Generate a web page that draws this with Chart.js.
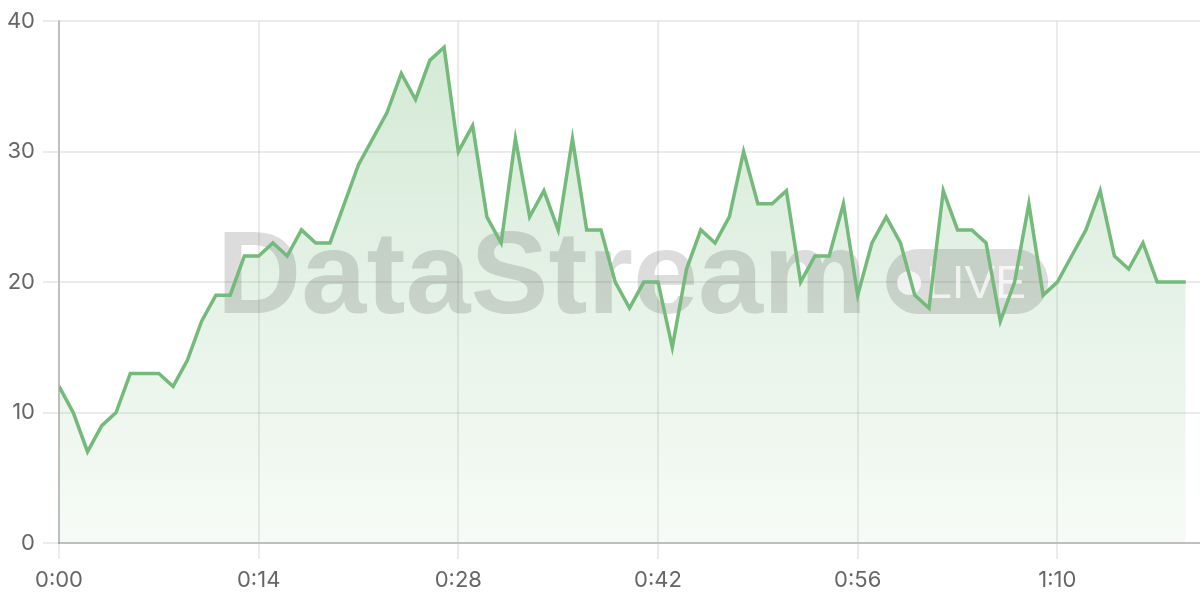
<!DOCTYPE html>
<html>
<head>
<meta charset="utf-8">
<script src="https://cdn.jsdelivr.net/npm/chart.js@4.4.1/dist/chart.umd.min.js"></script>
<style>
html,body{margin:0;padding:0;background:#fff;}
#wrap{width:1200px;height:600px;}
</style>
</head>
<body>
<div id="wrap"><canvas id="c" width="1200" height="600"></canvas></div>
<script>
// ---- data ----
const seconds = [0,1,2,3,4,5,6,7,8,9,10,11,12,13,14,15,16,17,18,19,
  20,21,22,23,24,25,26,27,28,29,30,31,32,33,34,35,36,37,38,39,
  40,41,42,43,44,45,46,47,48,49,50,51,52,53,54,55,56,57,58,59,
  60,61,62,63,64,65,66,67,68,69,70,71,72,73,74,75,76,77,78,79];
const viewers = [12,10,7,9,10,13,13,13,12,14,
  17,19,19,22,22,23,22,24,23,23,
  26,29,31,33,36,34,37,38,30,32,
  25,23,31,25,27,24,31,24,24,20,
  18,20,20,15,21,24,23,25,30,26,
  26,27,20,22,22,26,19,23,25,23,
  19,18,27,24,24,23,17,20,26,19,
  20,22,24,27,22,21,23,20,20,20];
const xTicks = [0,14,28,42,56,70];
const yTicks = [0,10,20,30,40];
const watermarkText = 'DataStream';
const badgeText = 'LIVE';

function fmtTime(v){
  const m = Math.floor(v/60), s = v%60;
  return m + ':' + String(s).padStart(2,'0');
}

const LINE = 'rgb(116,186,122)';
const FONT = 'Inter, "Open Sans", "Liberation Sans", sans-serif';

const watermark = {
  id: 'watermark',
  beforeDatasetDraw(chart){
    const {ctx, chartArea: a} = chart;
    ctx.save();
    const cx = (a.left + a.right) / 2 + 3;
    const cy = (a.top + a.bottom) / 2;
    ctx.font = 'bold 117px "Liberation Sans", Arial, sans-serif';
    const tw = ctx.measureText(watermarkText).width;
    const pillW = 162, pillH = 65, gap = 19;
    const total = tw + gap + pillW;
    const x0 = cx - total/2;
    ctx.fillStyle = 'rgba(60,60,60,0.18)';
    ctx.textBaseline = 'alphabetic';
    ctx.textAlign = 'left';
    ctx.fillText(watermarkText, x0, cy + 31);
    const px = x0 + tw + gap, py = cy - 33;
    ctx.beginPath();
    ctx.roundRect(px, py, pillW, pillH, pillH/2);
    ctx.fill();
    ctx.fillStyle = 'rgba(255,255,255,0.72)';
    ctx.beginPath();
    ctx.arc(px + 23, py + 34, 12, 0, Math.PI*2);
    ctx.fill();
    ctx.font = '46px "Liberation Sans", Arial, sans-serif';
    ctx.fillText(badgeText, px + 40, py + 49);
    ctx.restore();
  }
};

new Chart(document.getElementById('c'), {
  type: 'line',
  data: {
    labels: seconds,
    datasets: [{
      data: viewers,
      borderColor: LINE,
      borderWidth: 3.5,
      tension: 0,
      pointRadius: 0,
      pointHoverRadius: 0,
      fill: 'origin',
      backgroundColor: (context) => {
        const chart = context.chart;
        const a = chart.chartArea;
        if (!a) return 'rgba(116,186,122,0.2)';
        const g = chart.ctx.createLinearGradient(0, a.top, 0, a.bottom);
        g.addColorStop(0, 'rgba(116,186,122,0.32)');
        g.addColorStop(1, 'rgba(116,186,122,0.06)');
        return g;
      }
    }]
  },
  options: {
    responsive: false,
    animation: false,
    devicePixelRatio: 1,
    layout: { padding: { top: 19, right: 0, left: 0, bottom: 0 } },
    plugins: { legend: { display: false }, tooltip: { enabled: false } },
    scales: {
      x: {
        type: 'linear',
        min: 0,
        max: 80,
        afterBuildTicks: (s) => { s.ticks = xTicks.map(v => ({value: v})); },
        afterFit: (s) => { s.height = 57; },
        ticks: { callback: (v) => fmtTime(v), color: '#666', font: { family: FONT, size: 22 }, padding: 8, maxRotation: 0, autoSkip: false },
        grid: { color: 'rgba(0,0,0,0.08)', lineWidth: 2, tickLength: 16 },
        border: { color: 'rgba(0,0,0,0.19)', width: 2 }
      },
      y: {
        min: 0,
        max: 40,
        afterBuildTicks: (s) => { s.ticks = yTicks.map(v => ({value: v})); },
        afterFit: (s) => { s.width = 59; },
        ticks: { color: '#666', font: { family: FONT, size: 22 }, padding: 8 },
        grid: { color: 'rgba(0,0,0,0.08)', lineWidth: 2, tickLength: 16 },
        border: { color: 'rgba(0,0,0,0.19)', width: 2 }
      }
    }
  },
  plugins: [watermark]
});
</script>
</body>
</html>
